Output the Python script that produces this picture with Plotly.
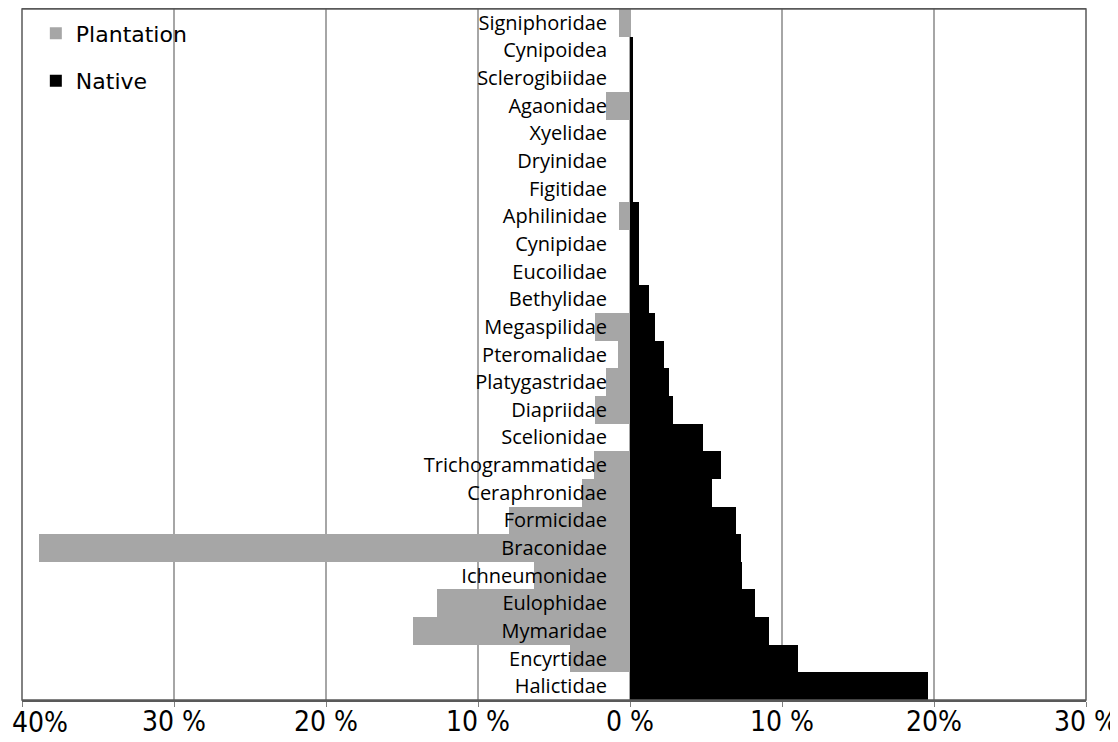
import plotly.graph_objects as go

# Categories, top to bottom as drawn
families = [
    "Signiphoridae", "Cynipoidea", "Sclerogibiidae", "Agaonidae", "Xyelidae",
    "Dryinidae", "Figitidae", "Aphilinidae", "Cynipidae", "Eucoilidae",
    "Bethylidae", "Megaspilidae", "Pteromalidae", "Platygastridae", "Diapriidae",
    "Scelionidae", "Trichogrammatidae", "Ceraphronidae", "Formicidae", "Braconidae",
    "Ichneumonidae", "Eulophidae", "Mymaridae", "Encyrtidae", "Halictidae",
]

# Percent of individuals
plantation = [
    0.7, 0.0, 0.0, 1.6, 0.0,
    0.0, 0.0, 0.75, 0.0, 0.0,
    0.0, 2.3, 0.8, 1.6, 2.3,
    0.0, 2.35, 3.15, 7.95, 38.9,
    6.3, 12.7, 14.3, 3.95, 0.0,
]
native = [
    0.0, 0.2, 0.2, 0.2, 0.2,
    0.2, 0.2, 0.6, 0.6, 0.6,
    1.25, 1.65, 2.25, 2.55, 2.85,
    4.8, 6.0, 5.4, 6.95, 7.3,
    7.35, 8.2, 9.15, 11.05, 19.6,
]

tick_vals = [-40, -30, -20, -10, 0, 10, 20, 30]
tick_text = ["40%", "30 %", "20 %", "10 %", "0 %", "10 %", "20%", "30 %"]

x_min, x_max = -40, 30
tick_font = dict(family="Liberation Sans Narrow, DejaVu Sans Condensed, Arial Narrow, sans-serif",
                 size=28, color="#000")

fig = go.Figure()
fig.add_trace(go.Bar(
    y=families, x=[-v for v in plantation], orientation="h",
    name="Plantation", marker=dict(color="#A6A6A6", line=dict(width=0)),
    legendgroup="p",
))
fig.add_trace(go.Bar(
    y=families, x=native, orientation="h",
    name="Native", marker=dict(color="#000000", line=dict(width=0)),
    legendgroup="n",
))

# The leftmost tick label sits shifted right of its tick (as in the original), drawn as an annotation
axis_text = [("" if v == x_min else t) for v, t in zip(tick_vals, tick_text)]
fig.add_annotation(
    x=x_min, y=0, xref="x", yref="paper",
    text=tick_text[tick_vals.index(x_min)],
    showarrow=False, xanchor="left", yanchor="top",
    xshift=-12, yshift=-4, font=tick_font,
)

# The page body adds an 8 px margin, so the figure is 8 px smaller each way
fig.update_layout(
    width=1110, height=734,
    margin=dict(l=14, r=32, t=1, b=42),
    paper_bgcolor="white", plot_bgcolor="white",
    barmode="relative", bargap=0,
    showlegend=True,
    legend=dict(
        x=0.013, y=0.995, xanchor="left", yanchor="top",
        bgcolor="rgba(0,0,0,0)",
        font=dict(family="DejaVu Sans", size=22, color="#000"),
        traceorder="grouped", tracegroupgap=16,
    ),
    xaxis=dict(
        range=[x_min, x_max],
        tickvals=tick_vals, ticktext=axis_text,
        showgrid=True, gridcolor="#A6A6A6", gridwidth=1.5,
        zeroline=False,
        showline=True, linecolor="#595959", linewidth=1.5, mirror=True,
        ticks="outside", ticklen=5, tickcolor="#808080",
        tickfont=tick_font,
        ticklabelstandoff=-9,
        ticklabeloverflow="allow",
        automargin=False,
        domain=[0, 1],
    ),
    yaxis=dict(
        autorange="reversed",
        type="category",
        anchor="free", position=(0 - x_min) / (x_max - x_min),
        showgrid=False, zeroline=False, showline=False,
        ticks="", ticklabelstandoff=23,
        tickfont=dict(family="Open Sans", size=20, color="#000"),
        automargin=False,
    ),
)

fig.add_shape(type="rect", xref="paper", yref="paper", x0=0, x1=1, y0=0, y1=1,
              line=dict(color="#595959", width=1.5), fillcolor="rgba(0,0,0,0)", layer="above")

fig.write_html("out.html")
